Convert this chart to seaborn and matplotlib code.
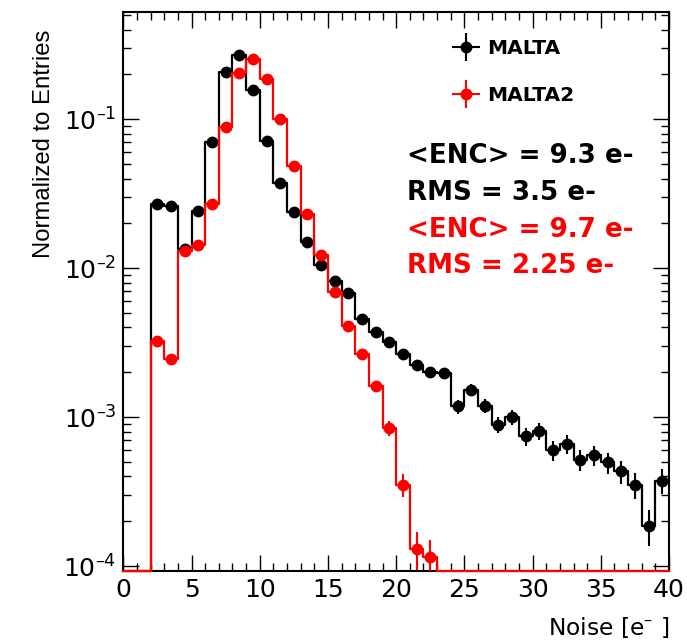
import numpy as np
import pandas as pd
import matplotlib
matplotlib.use("Agg")
import matplotlib.pyplot as plt
import seaborn as sns
from matplotlib.container import ErrorbarContainer
from matplotlib.legend_handler import HandlerErrorbar
from matplotlib.ticker import MultipleLocator, LogLocator, NullFormatter, FuncFormatter

# ---------------- data ----------------
bin_centers = np.arange(0.5, 40, 1.0)

malta = [0, 0, 0.0269, 0.0263, 0.0135, 0.0243, 0.0708, 0.207, 0.269, 0.158,
         0.0719, 0.0371, 0.0238, 0.0149, 0.0105, 0.00826, 0.00686, 0.00455, 0.00374, 0.00319,
         0.00267, 0.00225, 0.00202, 0.00197, 0.00118, 0.00153, 0.00119, 0.000891, 0.000996, 0.000742,
         0.000806, 0.000597, 0.000659, 0.000515, 0.000558, 0.000496, 0.000432, 0.000351, 0.000186, 0.000374]
malta_err = [0, 0, 6.0e-4, 5.9e-4, 4.2e-4, 5.7e-4, 9.7e-4, 1.66e-3, 1.89e-3, 1.45e-3,
             9.8e-4, 7.0e-4, 5.6e-4, 4.5e-4, 3.7e-4, 3.3e-4, 3.0e-4, 2.5e-4, 2.2e-4, 2.1e-4,
             1.9e-4, 1.7e-4, 1.6e-4, 1.6e-4, 1.26e-4, 1.43e-4, 1.26e-4, 1.09e-4, 1.15e-4, 9.9e-5,
             1.04e-4, 8.9e-5, 9.4e-5, 8.3e-5, 8.6e-5, 8.1e-5, 7.6e-5, 6.8e-5, 5.0e-5, 7.1e-5]

malta2 = [0, 0, 0.00324, 0.00246, 0.0131, 0.0143, 0.0269, 0.0893, 0.206, 0.256,
          0.186, 0.101, 0.0489, 0.0230, 0.0123, 0.00697, 0.00412, 0.00266, 0.00162, 0.000843,
          0.000352, 0.000131, 0.000115, 0, 0, 0, 0, 0, 0, 0,
          0, 0, 0, 0, 0, 0, 0, 0, 0, 0]
malta2_err = [0, 0, 1.85e-4, 1.6e-4, 3.7e-4, 3.9e-4, 5.3e-4, 9.7e-4, 1.47e-3, 1.64e-3,
              1.40e-3, 1.03e-3, 7.2e-4, 4.9e-4, 3.6e-4, 2.7e-4, 2.1e-4, 1.7e-4, 1.3e-4, 9.4e-5,
              6.1e-5, 3.7e-5, 3.5e-5, 0, 0, 0, 0, 0, 0, 0,
              0, 0, 0, 0, 0, 0, 0, 0, 0, 0]

series_names = ["MALTA", "MALTA2"]
series_colors = ["#000000", "#ff0000"]
stat_lines = ["<ENC> = 9.3 e-", "RMS = 3.5 e-", "<ENC> = 9.7 e-", "RMS = 2.25 e-"]
stat_colors = ["#000000", "#000000", "#ff0000", "#ff0000"]

x_label = "Noise [e$^{\u2013}$ ]"
y_label = "Normalized to Entries"

# ---------------- figure ----------------
plt.rcParams["font.family"] = ["DejaVu Sans"]
plt.rcParams["mathtext.fontset"] = "dejavusans"

W, H = 687, 643
fig = plt.figure(figsize=(W / 100, H / 100), dpi=100)
ax = fig.add_axes([123.3 / W, 1 - 570.7 / H, 545.7 / W, 558.7 / H])

ymin, ymax = 0.93e-4, 0.5255

for name, vals, errs, col, z in zip(series_names, [malta, malta2], [malta_err, malta2_err],
                                    series_colors, [2, 4]):
    vals = np.asarray(vals, dtype=float)
    errs = np.asarray(errs, dtype=float)
    df = pd.DataFrame({"noise": bin_centers, "w": np.clip(vals, ymin, None)})
    sns.histplot(data=df, x="noise", weights="w", binwidth=1, binrange=(0, 40),
                 element="step", fill=False, color=col, linewidth=1.6, ax=ax,
                 zorder=z, clip_on=False)
    m = vals > 0
    ax.errorbar(bin_centers[m], vals[m], yerr=errs[m], xerr=0.5, fmt="o", color=col,
                ms=7.5, elinewidth=1.5, capsize=0, label=name, zorder=z + 0.5)

ax.set_yscale("log")
ax.set_xlim(0, 40)
ax.set_ylim(ymin, ymax)


def log_fmt(v, pos):
    e = int(round(np.log10(v)))
    if e < 0:
        return "$10^{\u2013%d}$" % (-e)
    return "$10^{%d}$" % e


ax.xaxis.set_major_locator(MultipleLocator(5))
ax.xaxis.set_minor_locator(MultipleLocator(1))
ax.yaxis.set_major_locator(LogLocator(base=10))
ax.yaxis.set_minor_locator(LogLocator(base=10, subs=np.arange(2, 10)))
ax.yaxis.set_minor_formatter(NullFormatter())
ax.yaxis.set_major_formatter(FuncFormatter(log_fmt))

ax.tick_params(which="both", direction="in", top=True, right=True, width=1.0)
ax.tick_params(which="major", length=11.5, labelsize=18, pad=5)
ax.tick_params(which="minor", length=5.8)
for s in ax.spines.values():
    s.set_linewidth(1.5)

ax.set_xlabel(x_label, loc="right", fontsize=16.8)
ax.xaxis.set_label_coords(1.0, -0.079)
ax.set_ylabel(y_label, loc="top", fontsize=17.2, family=["Liberation Sans", "DejaVu Sans"])
ax.yaxis.set_label_coords(-0.1245, 0.968)

handles, labels = ax.get_legend_handles_labels()
ax.legend(handles, labels, loc="upper left", bbox_to_anchor=(452 / W, 1 - 39 / H),
          bbox_transform=fig.transFigure, frameon=False,
          prop=dict(weight="bold", size=14.6), handlelength=1.4, handletextpad=0.35,
          labelspacing=1.4, borderpad=0, borderaxespad=0, numpoints=1,
          handler_map={ErrorbarContainer: HandlerErrorbar(xerr_size=0.7, yerr_size=0.7)})

baselines = [163.3, 200.0, 236.7, 273.0]
for txt, col, yb in zip(stat_lines, stat_colors, baselines):
    fig.text(406.7 / W, 1 - yb / H, txt, color=col, fontsize=18.8, weight="bold",
             va="baseline", ha="left")

fig.savefig("out.png", dpi=100)
